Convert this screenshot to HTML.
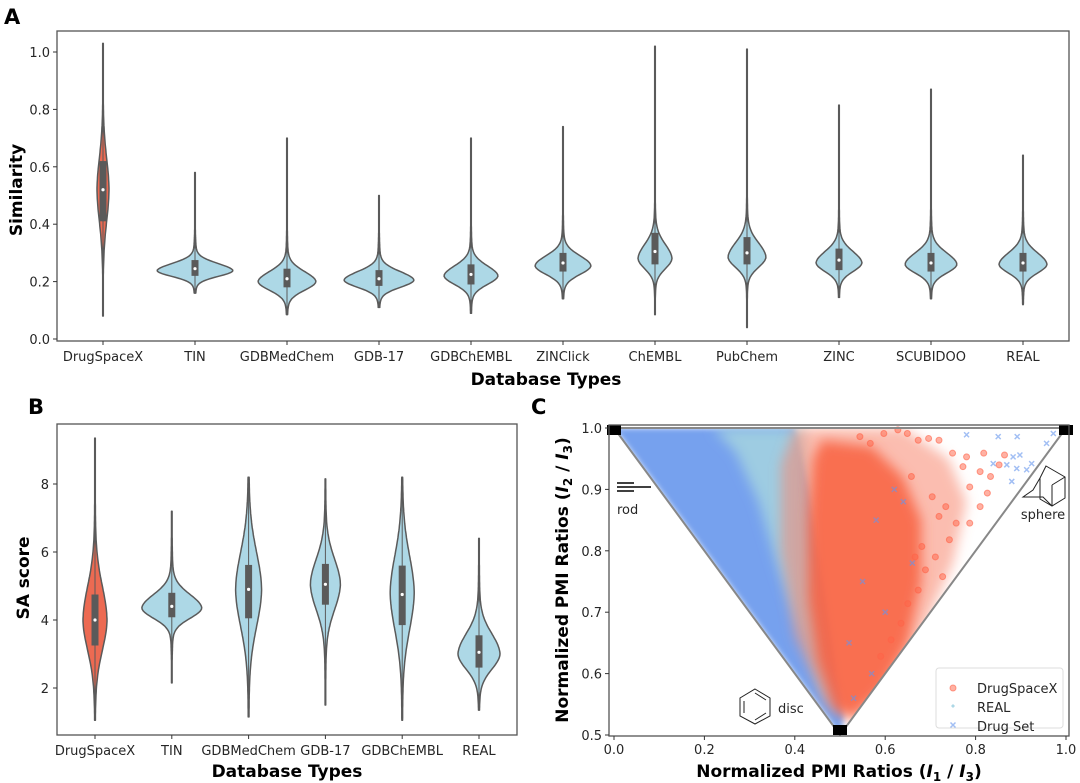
<!DOCTYPE html>
<html><head><meta charset="utf-8">
<style>
html,body{margin:0;padding:0;background:#fff;}
svg{display:block;font-family:"DejaVu Sans","Liberation Sans",sans-serif;}
.tk{font-size:13px;fill:#262626;}
.ttl{font-size:17px;font-weight:bold;fill:#000;}
.pl{font-size:21px;font-weight:bold;fill:#000;}
</style></head><body>
<svg id="fig" width="1080" height="783" viewBox="0 0 1080 783" xmlns="http://www.w3.org/2000/svg">
<defs>
<filter id="blur" x="-20%" y="-20%" width="140%" height="140%"><feGaussianBlur stdDeviation="6"/></filter>
<filter id="blur2" x="-20%" y="-20%" width="140%" height="140%"><feGaussianBlur stdDeviation="3"/></filter>
<clipPath id="triClip"><path d="M614,428L840,735L1066,428Z"/></clipPath>
</defs>
<g id="pA"></g>
<g id="pB"></g>
<g id="pC"></g>
</svg>
<script>
// ---------- Panel A data ----------
const catsA = ["DrugSpaceX","TIN","GDBMedChem","GDB-17","GDBChEMBL","ZINClick","ChEMBL","PubChem","ZINC","SCUBIDOO","REAL"];
const minA  = [0.08,0.16,0.085,0.11,0.09,0.14,0.085,0.04,0.145,0.14,0.12];
const maxA  = [1.03,0.58,0.70,0.50,0.70,0.74,1.02,1.01,0.815,0.87,0.64];
const q1A   = [0.41,0.22,0.18,0.185,0.19,0.235,0.26,0.26,0.24,0.235,0.235];
const medA  = [0.52,0.245,0.21,0.21,0.225,0.265,0.305,0.30,0.275,0.265,0.265];
const q3A   = [0.62,0.275,0.245,0.24,0.26,0.30,0.37,0.355,0.315,0.30,0.30];
const modeA = [0.52,0.238,0.20,0.205,0.22,0.255,0.28,0.285,0.265,0.26,0.26];
const hwA   = [6,38,29,35,27,28,17,19,23,26,24];
const sdUpA = [0.11,0.025,0.035,0.03,0.035,0.035,0.05,0.05,0.04,0.04,0.04];
const sdDnA = [0.11,0.02,0.03,0.025,0.03,0.03,0.035,0.035,0.03,0.03,0.03];
const yTicksA = [0.0,0.2,0.4,0.6,0.8,1.0];
// ---------- Panel B data ----------
const catsB = ["DrugSpaceX","TIN","GDBMedChem","GDB-17","GDBChEMBL","REAL"];
const minB  = [1.05,2.15,1.15,1.5,1.05,1.35];
const maxB  = [9.35,7.2,8.2,8.15,8.2,6.4];
const q1B   = [3.25,4.08,4.05,4.45,3.85,2.6];
const medB  = [4.0,4.4,4.9,5.05,4.75,3.05];
const q3B   = [4.75,4.8,5.62,5.65,5.6,3.55];
const modeB = [4.0,4.35,4.9,5.05,4.8,3.0];
const hwB   = [12,30,13,15,12,21];
const sdUpB = [1.0,0.4,1.1,0.75,1.1,0.6];
const sdDnB = [0.9,0.3,1.1,0.75,1.1,0.45];
const yTicksB = [2,4,6,8];
// ---------- Panel C data ----------
const xTicksC = [0.0,0.2,0.4,0.6,0.8,1.0];
const yTicksC = [0.5,0.6,0.7,0.8,0.9,1.0];
const drugSetRegionX = [0.0,0.40,0.43,0.45,0.47,0.49,0.51,0.50,0.0];
const drugSetRegionY = [1.00,1.00,0.90,0.80,0.70,0.60,0.53,0.50,1.0];
const realRegionX = [0.22,0.42,0.43,0.44,0.46,0.48,0.50,0.46,0.41,0.36,0.32,0.27];
const realRegionY = [1.00,1.00,0.90,0.80,0.70,0.60,0.53,0.57,0.67,0.78,0.88,0.96];
const dsxOuterX = [0.40,0.64,0.74,0.78,0.75,0.69,0.61,0.53,0.47,0.40,0.37,0.37];
const dsxOuterY = [1.00,1.00,0.95,0.88,0.78,0.68,0.58,0.52,0.55,0.66,0.80,0.94];
const dsxCoreX = [0.46,0.57,0.64,0.68,0.68,0.65,0.59,0.53,0.49,0.45,0.43,0.43,0.44];
const dsxCoreY = [0.98,0.97,0.92,0.85,0.75,0.65,0.57,0.53,0.54,0.62,0.72,0.85,0.95];
const dsxPtsX = [0.628,0.649,0.673,0.696,0.719,0.749,0.780,0.818,0.772,0.810,0.833,0.787,0.826,0.810,0.757,0.719,0.787,0.742,0.711,0.689,0.673,0.650,0.635,0.613,0.590,0.704,0.734,0.852,0.864,0.597,0.567,0.544,0.658,0.681,0.727,0.666];
const dsxPtsY = [0.997,0.991,0.980,0.983,0.980,0.959,0.953,0.959,0.937,0.929,0.921,0.904,0.894,0.872,0.845,0.856,0.845,0.818,0.790,0.769,0.736,0.714,0.682,0.655,0.628,0.888,0.872,0.940,0.956,0.991,0.975,0.986,0.921,0.807,0.758,0.790];
const drugPtsX = [0.780,0.850,0.892,0.957,0.972,0.883,0.898,0.924,0.913,0.891,0.869,0.880,0.839,0.62,0.58,0.66,0.55,0.60,0.52,0.64,0.57,0.53];
const drugPtsY = [0.989,0.986,0.986,0.975,0.991,0.953,0.956,0.942,0.932,0.934,0.940,0.913,0.942,0.90,0.85,0.78,0.75,0.70,0.65,0.88,0.60,0.56];
const legendLabels = ["DrugSpaceX","REAL","Drug Set"];

const NS="http://www.w3.org/2000/svg";
function mk(parent,tag,attrs){const e=document.createElementNS(NS,tag);for(const k in attrs)e.setAttribute(k,attrs[k]);parent.appendChild(e);return e;}
function txt(parent,x,y,s,cls,anchor){const t=mk(parent,"text",{x:x,y:y,"class":cls,"text-anchor":anchor||"middle"});t.textContent=s;return t;}

function violin(g,cx,yS,mn,mx,q1,md,q3,mode,hw,sdU,sdD,fill){
  const pts=[];const N=100;
  for(let i=0;i<=N;i++){
    const v=mn+(mx-mn)*i/N;
    const s=v>mode?sdU:sdD;const z=(v-mode)/s;
    let w=hw*(0.88*Math.exp(-0.5*z*z)+0.12*Math.exp(-Math.abs(z)/2.2));
    w=Math.max(w,0.3);
    pts.push([v,w]);
  }
  let d="";
  pts.forEach((p,i)=>{d+=(i?"L":"M")+(cx+p[1]).toFixed(1)+","+yS(p[0]).toFixed(1);});
  for(let i=pts.length-1;i>=0;i--){d+="L"+(cx-pts[i][1]).toFixed(1)+","+yS(pts[i][0]).toFixed(1);}
  d+="Z";
  const p=mk(g,"path",{d:d,fill:fill,stroke:"#5a5a5a","stroke-width":1.5,"stroke-linejoin":"round"});
  
  
  const wl=mk(g,"line",{x1:cx,x2:cx,y1:yS(mn),y2:yS(mx),stroke:"#5a5a5a","stroke-width":1});
  
  
  const b=mk(g,"rect",{x:cx-3.5,y:yS(q3),width:7,height:yS(q1)-yS(q3),fill:"#5a5a5a"});
  
  
  const c=mk(g,"circle",{cx:cx,cy:yS(md),r:1.6,fill:"#fff"});
  
  
}

// ---------- Panel A ----------
(function(){
  const g=document.getElementById("pA");
  const L=57,R=1069,T=31,B=341;
  const y=v=>339-287*v; const x=i=>103+92*i;
  txt(g,4,24,"A","pl","start");
  const fr=mk(g,"rect",{x:L,y:T,width:R-L,height:B-T,fill:"none",stroke:"#555","stroke-width":1.3});
  
  yTicksA.forEach(v=>{mk(g,"line",{x1:L-4,x2:L,y1:y(v),y2:y(v),stroke:"#333"});
    const t=txt(g,L-7,y(v)+5,v.toFixed(1),"tk","end");});
  catsA.forEach((c,i)=>{
    violin(g,x(i),y,minA[i],maxA[i],q1A[i],medA[i],q3A[i],modeA[i],hwA[i],sdUpA[i],sdDnA[i],i===0?"#ec6a52":"#add8e6");
    mk(g,"line",{x1:x(i),x2:x(i),y1:B,y2:B+4,stroke:"#333"});
    const t=txt(g,x(i),361,c,"tk");
  });
  const xt=txt(g,546,385,"Database Types","ttl");
  const yt=txt(g,0,0,"Similarity","ttl");yt.setAttribute("transform","translate(22,190) rotate(-90)");
})();

// ---------- Panel B ----------
(function(){
  const g=document.getElementById("pB");
  const L=57,R=517,T=424,B=735;
  const y=v=>484-(v-8)*34; const x=i=>95+76.8*i;
  txt(g,28,414,"B","pl","start");
  const fr=mk(g,"rect",{x:L,y:T,width:R-L,height:B-T,fill:"none",stroke:"#555","stroke-width":1.3});
  
  yTicksB.forEach(v=>{mk(g,"line",{x1:L-4,x2:L,y1:y(v),y2:y(v),stroke:"#333"});
    const t=txt(g,L-8,y(v)+5,String(v),"tk","end");});
  catsB.forEach((c,i)=>{
    violin(g,x(i),y,minB[i],maxB[i],q1B[i],medB[i],q3B[i],modeB[i],hwB[i],sdUpB[i],sdDnB[i],i===0?"#ec6a52":"#add8e6");
    mk(g,"line",{x1:x(i),x2:x(i),y1:B,y2:B+4,stroke:"#333"});
    const t=txt(g,x(i),755,c,"tk");
  });
  const xt=txt(g,287,777,"Database Types","ttl");
  const yt=txt(g,0,0,"SA score","ttl");yt.setAttribute("transform","translate(29,578) rotate(-90)");
})();

// ---------- Panel C ----------
(function(){
  const g=document.getElementById("pC");
  const L=609,R=1069,T=425,B=736;
  const x=v=>614+452*v; const y=v=>428+(1-v)*614;
  txt(g,531,414,"C","pl","start");
  const cg=mk(g,"g",{"clip-path":"url(#triClip)"});
  
  function poly(xs,ys,fill,op,name,flt){const p=mk(cg,"polygon",{points:xs.map((v,i)=>x(v).toFixed(1)+","+y(ys[i]).toFixed(1)).join(" "),fill:fill,"fill-opacity":op,filter:flt});
    }
  poly(drugSetRegionX,drugSetRegionY,"#6f9ced",0.95,"drug-set-density","url(#blur2)");
  poly(realRegionX,realRegionY,"#a4d3df",0.85,"real-density","url(#blur)");
  poly(dsxOuterX,dsxOuterY,"#f8866f",0.55,"drugspacex-sparse-region","url(#blur)");
  poly(dsxCoreX,dsxCoreY,"#f8603f",0.85,"drugspacex-dense-region","url(#blur)");
  dsxPtsX.forEach((v,i)=>{const c=mk(g,"circle",{cx:x(v),cy:y(dsxPtsY[i]),r:3,fill:"#ff6347","fill-opacity":0.5,stroke:"#ff6347","stroke-opacity":0.6});
    });
  drugPtsX.forEach((v,i)=>{const px=x(v),py=y(drugPtsY[i]);
    const p=mk(g,"path",{d:`M${px-2.5},${py-2.5}L${px+2.5},${py+2.5}M${px-2.5},${py+2.5}L${px+2.5},${py-2.5}`,stroke:"#6495ed","stroke-width":1.5,"stroke-opacity":0.6});
    });
  const tri=mk(g,"path",{d:`M${x(0)},${y(1)}L${x(0.5)},${y(0.5)}L${x(1)},${y(1)}Z`,fill:"none",stroke:"#888","stroke-width":2});
  
  [[0,1],[1,1],[0.5,0.5]].forEach(p=>{const s=mk(g,"rect",{x:x(p[0])-7,y:y(p[1])-(p[1]<1?10:3),width:14,height:10,fill:"#000"});
    });
  const fr=mk(g,"rect",{x:L,y:T,width:R-L,height:B-T,fill:"none",stroke:"#555","stroke-width":1.3});
  
  xTicksC.forEach(v=>{mk(g,"line",{x1:x(v),x2:x(v),y1:B,y2:B+4,stroke:"#333"});
    const t=txt(g,x(v),754,v.toFixed(1),"tk");});
  yTicksC.forEach(v=>{mk(g,"line",{x1:L-4,x2:L,y1:y(v),y2:y(v),stroke:"#333"});
    const t=txt(g,L-7,y(v)+5,v.toFixed(1),"tk","end");});
  const rod=mk(g,"g",{});
  mk(rod,"path",{d:"M617,483H634M617,487H651M617,491H634",stroke:"#000","stroke-width":1.6});
  txt(g,617,514,"rod","tk","start");
  const sph=mk(g,"g",{fill:"none",stroke:"#222","stroke-width":1});
  mk(sph,"path",{d:"M1046,466L1065,477L1065,498L1052,506L1040,499L1040,478Z M1040,478L1033,490L1023,497L1043,497L1052,506 M1052,485L1065,477 M1052,485L1052,506"});
  txt(g,1043,519,"sphere","tk");
  const bz=mk(g,"g",{fill:"none",stroke:"#222","stroke-width":1});
  mk(bz,"polygon",{points:"755,689 770,698 770,716 755,724 740,716 740,698"});
  mk(bz,"path",{d:"M755,693L766,700M766,713L755,720M744,701L744,713"});
  txt(g,778,713,"disc","tk","start");
  const lg=mk(g,"g",{});
  mk(lg,"rect",{x:936,y:668,width:127,height:60,rx:3,fill:"#fff","fill-opacity":0.85,stroke:"#ddd"});
  mk(lg,"circle",{cx:953,cy:688,r:3,fill:"#ff6347","fill-opacity":0.5,stroke:"#ff6347","stroke-opacity":0.6});
  mk(lg,"path",{d:"M953,704L951,706L953,708L955,706Z",fill:"#add8e6"});
  mk(lg,"path",{d:"M950.5,722.5L955.5,727.5M950.5,727.5L955.5,722.5",stroke:"#6495ed","stroke-width":1.5,"stroke-opacity":0.6});
  legendLabels.forEach((s,i)=>{const t=txt(lg,977,693+19*i,s,"tk","start");});
  const xt=txt(g,0,0,"","ttl");xt.setAttribute("x",839);xt.setAttribute("y",777);
  xt.innerHTML='Normalized PMI Ratios (<tspan font-style="italic">I</tspan><tspan font-size="12" dy="4">1</tspan><tspan dy="-4"> / </tspan><tspan font-style="italic">I</tspan><tspan font-size="12" dy="4">3</tspan><tspan dy="-4">)</tspan>';
  
  const yt=txt(g,0,0,"","ttl");yt.setAttribute("transform","translate(568,580) rotate(-90)");
  yt.innerHTML='Normalized PMI Ratios (<tspan font-style="italic">I</tspan><tspan font-size="12" dy="4">2</tspan><tspan dy="-4"> / </tspan><tspan font-style="italic">I</tspan><tspan font-size="12" dy="4">3</tspan><tspan dy="-4">)</tspan>';
  
})();
</script>
</body></html>
